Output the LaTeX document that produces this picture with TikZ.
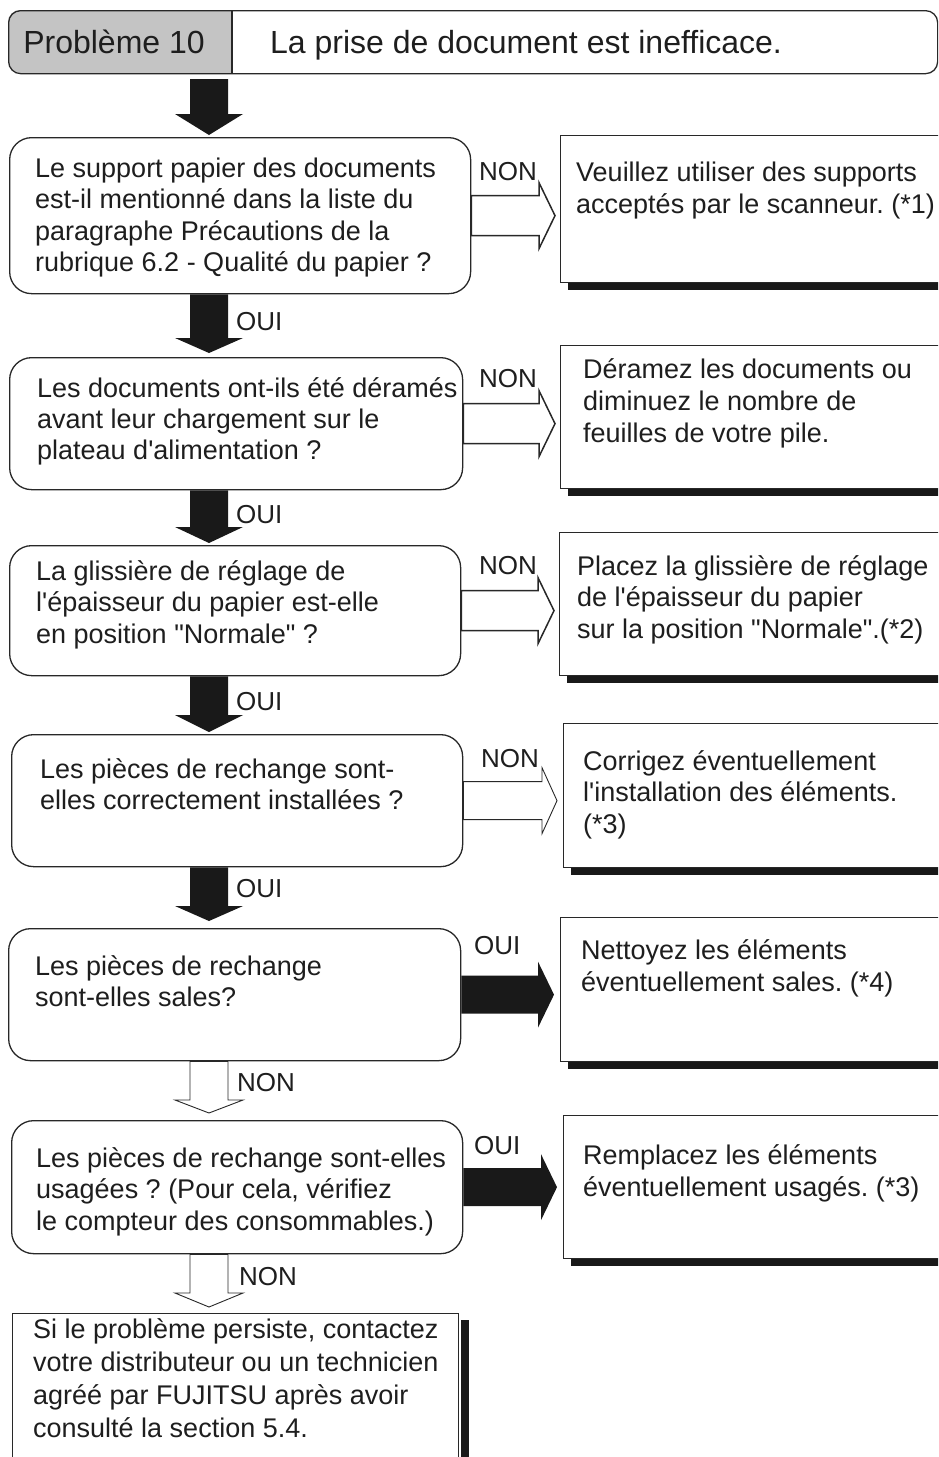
\documentclass[tikz,border=0pt]{standalone}
\usepackage{fontspec}
\setmainfont{Liberation Sans}
\usetikzlibrary{calc}
\definecolor{linecol}{RGB}{40,40,40}
\definecolor{arrowcol}{RGB}{25,25,25}
\definecolor{hdrgray}{RGB}{196,196,196}
\definecolor{textcol}{RGB}{30,30,30}
\newcommand\firststrut{\rule{0pt}{24pt}}
\newcommand\ap{\textquotesingle}
\newcommand\qq{\textquotedbl}
\frenchspacing
\tikzset{
  dec/.style={draw=linecol, line width=1.3pt, rounded corners=22pt, inner sep=0pt, anchor=north west, fill=white},
  rbox/.style={draw=linecol, line width=1.1pt, inner sep=0pt, anchor=north west, fill=white},
  txt/.style={inner sep=0pt, anchor=north west, align=left, text=textcol, font=\fontsize{27}{31.5}\selectfont},
  lab/.style={inner sep=0pt, anchor=base west, text=textcol, font=\fontsize{26}{30}\selectfont},
  hdrtxt/.style={inner sep=0pt, text=textcol, font=\fontsize{32}{36}\selectfont},
  blackarrow/.style={fill=arrowcol},
  hollowarrow/.style={fill=white, draw=linecol, line width=#1, line join=miter},
  hollowarrow/.default=1pt,
  downarrow/.style n args={4}{to path={let \p1=(\tikztostart), \p2=(\tikztotarget) in
      (\x1-#1,\y1) -- (\x1+#1,\y1) -- (\x1+#1,\y2+#4+#3) -- (\x1+#2,\y2+#4+#3)
      -- (\x1,\y2+#4) -- (\x1-#2,\y2+#4+#3) -- (\x1-#1,\y2+#4+#3) -- cycle}},
  rightarrow/.style n args={4}{to path={let \p1=(\tikztostart), \p2=(\tikztotarget) in
      (\x1,\y1+#1) -- (\x2-#4-#3,\y1+#1) -- (\x2-#4-#3,\y1+#2) -- (\x2-#4,\y1)
      -- (\x2-#4-#3,\y1-#2) -- (\x2-#4-#3,\y1-#1) -- (\x1,\y1-#1) -- cycle}},
}
\begin{document}
\begin{tikzpicture}[x=1pt,y=-1pt]
\useasboundingbox (0,0) rectangle (938,1457);
\clip (0,0) rectangle (938,1457);
\fill[white] (0,0) rectangle (938,1457);

% header
\begin{scope}
\clip (0,0) rectangle (232,80);
\fill[hdrgray, rounded corners=12pt] (8,10) rectangle (300,73);
\end{scope}
\node[draw=linecol, line width=1.3pt, rounded corners=12pt, inner sep=0pt, minimum width=929pt, minimum height=63pt, anchor=north west] (hdr) at (8,10) {};
\coordinate (hdiv) at (232,0);
\draw[linecol, line width=1.2pt] (hdr.north -| hdiv) -- (hdr.south -| hdiv);
\node[hdrtxt, anchor=base] (p10) at (114,53) {Problème 10};
\node[hdrtxt, anchor=base west] (ttl) at (270,53) {La prise de document est inefficace.};

% decision boxes
\node[dec, minimum width=461pt, minimum height=156pt] (d1) at (9,137) {};
\node[dec, minimum width=453pt, minimum height=132pt] (d2) at (9,357) {};
\node[dec, minimum width=451pt, minimum height=130pt] (d3) at (9,545) {};
\node[dec, minimum width=451pt, minimum height=132pt] (d4) at (11,734) {};
\node[dec, minimum width=452pt, minimum height=132pt] (d5) at (8,928) {};
\node[dec, minimum width=451pt, minimum height=133pt] (d6) at (11,1120) {};

% result boxes
\node[rbox, minimum width=385pt, minimum height=147pt] (r1) at (560,135) {};
\node[rbox, minimum width=385pt, minimum height=143pt] (r2) at (560,345) {};
\node[rbox, minimum width=386pt, minimum height=143pt] (r3) at (559,532) {};
\node[rbox, minimum width=382pt, minimum height=144pt] (r4) at (563,723) {};
\node[rbox, minimum width=385pt, minimum height=144pt] (r5) at (560,917) {};
\node[rbox, minimum width=382pt, minimum height=143pt] (r6) at (563,1115) {};
\node[rbox, minimum width=446pt, minimum height=145pt] (fin) at (12,1313) {};

% shadows
\foreach \r in {r1,r2,r3,r4,r5,r6}{
  \fill[arrowcol] ($(\r.south west)+(8,0)$) rectangle ($(\r.south east)+(0,7)$);
}
\fill[arrowcol] ($(fin.north east)+(2,7)$) rectangle ($(fin.south east)+(10,4)$);

% texts
\node[txt] (t1) at (35,153) {\firststrut Le support papier des documents\\est-il mentionné dans la liste du\\paragraphe Précautions de la\\rubrique 6.2 - Qualité du papier ?};
\node[txt, font=\fontsize{27}{31}\selectfont] (t2) at (37,373) {\firststrut Les documents ont-ils été déramés\\avant leur chargement sur le\\plateau d\ap alimentation ?};
\node[txt] (t3) at (36,556) {\firststrut La glissière de réglage de\\l\ap épaisseur du papier est-elle\\en position \qq Normale\qq{} ?};
\node[txt, font=\fontsize{27}{31}\selectfont] (t4) at (40,754) {\firststrut Les pièces de rechange sont-\\elles correctement installées ?};
\node[txt] (t5) at (35,951) {\firststrut Les pièces de rechange\\sont-elles sales?};
\node[txt] (t6) at (36,1143) {\firststrut Les pièces de rechange sont-elles\\usagées ? (Pour cela, vérifiez\\le compteur des consommables.)};

\node[txt, font=\fontsize{27}{32}\selectfont] (s1) at (576,157) {\firststrut Veuillez utiliser des supports\\acceptés par le scanneur. (*1)};
\node[txt, font=\fontsize{27}{32}\selectfont] (s2) at (583,354) {\firststrut Déramez les documents ou\\diminuez le nombre de\\feuilles de votre pile.};
\node[txt] (s3) at (577,551) {\firststrut Placez la glissière de réglage\\de l\ap épaisseur du papier\\sur la position \qq Normale\qq .(*2)};
\node[txt] (s4) at (583,746) {\firststrut Corrigez éventuellement\\l\ap installation des éléments.\\(*3)};
\node[txt, font=\fontsize{27}{32}\selectfont] (s5) at (581,935) {\firststrut Nettoyez les éléments\\éventuellement sales. (*4)};
\node[txt, font=\fontsize{27}{32}\selectfont] (s6) at (583,1140) {\firststrut Remplacez les éléments\\éventuellement usagés. (*3)};
\node[txt, font=\fontsize{27}{33}\selectfont] (sf) at (33,1314) {\firststrut Si le problème persiste, contactez\\votre distributeur ou un technicien\\agréé par FUJITSU après avoir\\consulté la section 5.4.};

% vertical arrows
\coordinate (a0) at (209,79);
\path[blackarrow, downarrow={19pt}{34pt}{21pt}{2pt}] (a0) to (d1.north -| a0);
\path[blackarrow, downarrow={19pt}{34pt}{15pt}{4pt}] (d1.south -| a0) to (d2.north -| a0);
\path[blackarrow, downarrow={19pt}{34pt}{16pt}{2pt}] (d2.south -| a0) to (d3.north -| a0);
\path[blackarrow, downarrow={19pt}{34pt}{17pt}{2pt}] (d3.south -| a0) to (d4.north -| a0);
\path[blackarrow, downarrow={19pt}{34pt}{15pt}{7pt}] (d4.south -| a0) to (d5.north -| a0);
\path[hollowarrow=0.9pt, downarrow={19pt}{34pt}{13pt}{7pt}] (d5.south -| a0) to (d6.north -| a0);
\path[hollowarrow=0.9pt, downarrow={19pt}{34pt}{14pt}{6pt}] (d6.south -| a0) to (fin.north -| a0);

% horizontal arrows
\path[hollowarrow=1.5pt, rightarrow={20pt}{33pt}{16pt}{5pt}] (d1.east) to (r1.west |- d1.east);
\path[hollowarrow=1.5pt, rightarrow={20pt}{33pt}{16pt}{5pt}] (d2.east) to (r2.west |- d2.east);
\path[hollowarrow=1.5pt, rightarrow={20pt}{33pt}{16pt}{5pt}] (d3.east) to (r3.west |- d3.east);
\path[hollowarrow=0.9pt, rightarrow={19pt}{33pt}{15pt}{6pt}] (d4.east) to (r4.west |- d4.east);
\path[blackarrow, rightarrow={19pt}{33pt}{16pt}{6pt}] (d5.east) to (r5.west |- d5.east);
\path[blackarrow, rightarrow={19pt}{33pt}{16pt}{6pt}] (d6.east) to (r6.west |- d6.east);

% labels
\node[lab] (l1) at (479,180) {NON};
\node[lab] (l2) at (479,387) {NON};
\node[lab] (l3) at (479,574) {NON};
\node[lab] (l4) at (481,767) {NON};
\node[lab] (l5) at (474,954) {OUI};
\node[lab] (l6) at (474,1154) {OUI};
\node[lab] (v1) at (236,330) {OUI};
\node[lab] (v2) at (236,523) {OUI};
\node[lab] (v3) at (236,710) {OUI};
\node[lab] (v4) at (236,897) {OUI};
\node[lab] (v5) at (237,1091) {NON};
\node[lab] (v6) at (239,1285) {NON};
\end{tikzpicture}
\end{document}
